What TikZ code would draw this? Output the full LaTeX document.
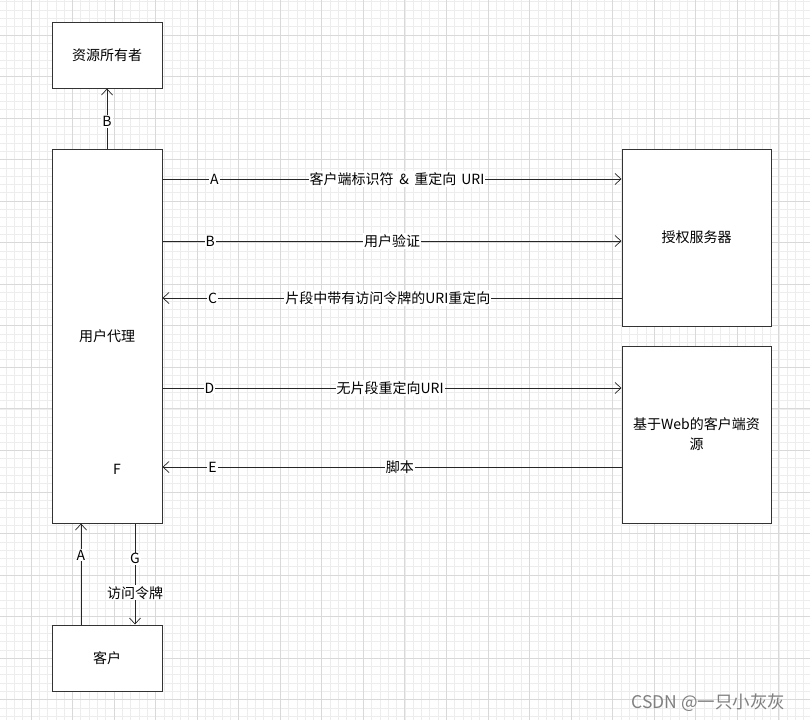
\documentclass[tikz,border=0pt]{standalone}
\usepackage{fontspec}
\setmainfont{Noto Sans CJK SC}
\usetikzlibrary{arrows.meta}
\definecolor{gridminor}{HTML}{EDEDED}
\definecolor{gridmajor}{HTML}{D9D9D9}
\definecolor{boxline}{HTML}{333333}

\begin{document}
\begin{tikzpicture}[x=1pt, y=-1pt,
	minorline/.style={gridminor, line width=0.8pt},
	majorline/.style={gridmajor, line width=1pt},
	box/.style={draw=boxline, fill=white, line width=1pt, inner sep=0pt,
		minimum width=110pt, minimum height=66pt, align=center,
		font=\fontsize{14}{20}\selectfont},
	bigbox/.style={box, minimum width=149pt, minimum height=177pt},
	flow/.style={draw=black!85, line width=0.9pt,
		-{Straight Barb[length=6pt, width=11pt, line width=0.7pt]}},
	tag/.style={fill=white, inner sep=1pt, font=\fontsize{14}{17}\selectfont}]
	\useasboundingbox (0,0) rectangle (810,720);
	\fill[white] (0,0) rectangle (810,720);

	% background grid
	\foreach \i in {0,...,97}
		\draw[minorline] (6.07+\i*8.31,0) -- (6.07+\i*8.31,720);
	\foreach \i in {0,...,86}
		\draw[minorline] (0,1.76+\i*8.31) -- (810,1.76+\i*8.31);
	\foreach \i in {0,...,18}
		\draw[majorline] (31.0+\i*41.55,0) -- (31.0+\i*41.55,720);
	\foreach \i in {-1,...,16}
		\draw[majorline] (0,35.0+\i*41.55) -- (810,35.0+\i*41.55);

	% boxes
	\node[box] (owner) at (107,55) {资源所有者};
	\node[box, minimum height=374pt] (agent) at (107,336) {用户代理};
	\node[bigbox] (authserver) at (696.5,237.5) {授权服务器};
	\node[bigbox] (webres) at (696.5,434.5) {基于Web的客户端资\\源};
	\node[box] (client) at (107,658) {客户};
	\node[font=\fontsize{14}{17}\selectfont] (flabel) at (117,469) {F};

	% flows
	\draw[flow] (agent.north) -- (owner.south) node[tag, pos=0.45] {B};
	\draw[flow] (agent.east |- 0,179) -- (authserver.west |- 0,179)
		node[tag, pos=0.113] {A}
		node[tag, pos=0.511] {客户端标识符\hspace{0.4em}\&\hspace{0.4em}重定向\hspace{0.35em}URI};
	\draw[flow] (agent.east |- 0,241) -- (authserver.west |- 0,241)
		node[tag, pos=0.104] {B} node[tag, pos=0.5] {用户验证};
	\draw[flow] (authserver.west |- 0,298) -- (agent.east |- 0,298)
		node[tag, pos=0.891] {C} node[tag, pos=0.509] {片段中带有访问令牌的URI重定向};
	\draw[flow] (agent.east |- 0,388) -- (webres.west |- 0,388)
		node[tag, pos=0.102] {D} node[tag, pos=0.496] {无片段重定向URI};
	\draw[flow] (webres.west |- 0,467) -- (agent.east |- 0,467)
		node[tag, pos=0.891] {E} node[tag, pos=0.483] {脚本};
	\draw[flow] (client.north -| 81,0) -- (agent.south -| 81,0) node[tag, pos=0.686] {A};
	\draw[flow] (agent.south -| 135,0) -- (client.north -| 135,0)
		node[tag, pos=0.35] {G} node[tag, pos=0.686] {访问令牌};

	% watermark
	\node[text=black!50, font=\fontsize{17.5}{19}\selectfont] (mark) at (708.5,703) {CSDN @一只小灰灰};
\end{tikzpicture}
\end{document}
